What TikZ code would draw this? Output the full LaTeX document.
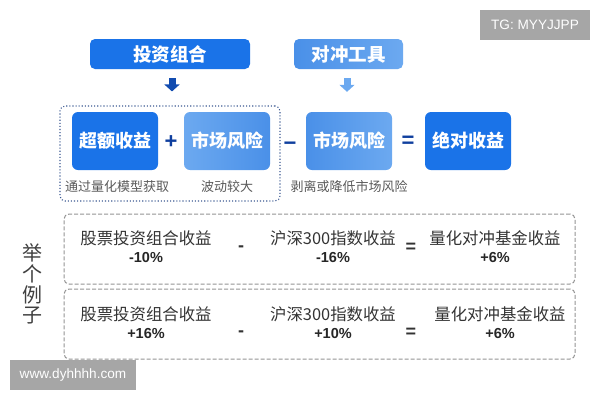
\documentclass[tikz,border=0pt]{standalone}
\usepackage{fontspec}
\usepackage{xcolor}
\setmainfont{Liberation Sans}
\newfontfamily\cjk{Noto Sans CJK SC}
\usetikzlibrary{arrows.meta, positioning}
\definecolor{deep_blue}{HTML}{1A73E8}
\definecolor{mid_blue}{HTML}{4A90E8}
\definecolor{pale_blue}{HTML}{6CA9F0}
\definecolor{navy_blue}{HTML}{0F3F9E}
\definecolor{mark_grey}{HTML}{A6A6A6}

\begin{document}
\begin{tikzpicture}[
		x=1pt, y=-1pt,
		% Define styles for the nodes and layers
		title_box/.style={
			rectangle,
			minimum height=30pt,
			rounded corners=5pt,
			inner sep=0pt,
			text=white,
			font=\cjk\bfseries\fontsize{18.5}{18.5}\selectfont
		},
		term_box/.style={
			rectangle,
			minimum width=86pt,
			minimum height=58pt,
			rounded corners=6pt,
			inner sep=0pt,
			text=white,
			font=\cjk\bfseries\fontsize{18}{18}\selectfont
		},
		caption_node/.style={
			inner sep=0pt,
			text=black!65,
			font=\cjk\fontsize{13}{13}\selectfont
		},
		group_box/.style={
			rectangle,
			draw=navy_blue!60!gray,
			line width=1.1pt,
			dotted,
			minimum width=220pt,
			minimum height=95pt,
			rounded corners=5pt
		},
		example_box/.style={
			rectangle,
			draw=black!42,
			line width=1pt,
			dash pattern=on 4pt off 2pt,
			minimum width=511pt,
			minimum height=70pt,
			rounded corners=5pt
		},
		row_text/.style={
			inner sep=0pt,
			text=black!80,
			font=\cjk\fontsize{16.4}{16.4}\selectfont
		},
		row_value/.style={
			inner sep=0pt,
			text=black!85,
			font=\bfseries\fontsize{14.5}{14.5}\selectfont
		},
		row_sign/.style={
			inner sep=0pt,
			text=black!80,
			font=\bfseries\fontsize{18}{18}\selectfont
		},
		op_sign/.style={
			inner sep=0pt,
			text=navy_blue,
			font=\bfseries\fontsize{22}{22}\selectfont
		},
		side_char/.style={
			inner sep=0pt,
			text=black!75,
			font=\cjk\fontsize{20}{20}\selectfont
		},
		mark_box/.style={
			rectangle,
			fill=mark_grey,
			inner sep=0pt,
			text=white,
			font=\fontsize{13.6}{13.6}\selectfont
		},
		arrow_style/.style={
			-{Triangle[width=15pt,length=7pt]},
			line width=7pt
		},
		]
		\useasboundingbox (0,0) rectangle (600,400);
		
		% ----- Nodes -----
		% Two headers on top
		\node[title_box, fill=deep_blue, minimum width=160pt] (portfolio_box) at (170, 54) {投资组合};
		\node[title_box, left color=mid_blue, right color=pale_blue, minimum width=109pt] (hedge_box) at (348.5, 54) {对冲工具};
		
		% The equation
		\node[group_box] (excess_group) at (170, 153.5) {};
		\node[term_box, fill=deep_blue] (excess_box) at (115, 141) {超额收益};
		\node[term_box, left color=pale_blue, right color=mid_blue] (market_box) at (227, 141) {市场风险};
		\node[term_box, left color=mid_blue, right color=pale_blue] (hedged_box) at (349, 141) {市场风险};
		\node[term_box, fill=deep_blue] (alpha_box) at (468, 141) {绝对收益};
		\node[op_sign] (plus_sign) at (171, 142) {+};
		\node[op_sign] (minus_sign) at (290, 146) {−};
		\node[op_sign] (equal_sign) at (408, 142) {=};
		
		% Captions below the equation
		\node[caption_node] (excess_note) at (117, 187) {通过量化模型获取};
		\node[caption_node] (market_note) at (227, 187) {波动较大};
		\node[caption_node] (hedged_note) at (349, 187) {剥离或降低市场风险};
		
		% The two examples
		\node[example_box] (first_box) at (319.5, 249) {};
		\node[example_box] (second_box) at (319.5, 324) {};
		\node[side_char] (side_a) at (33, 253) {举};
		\node[side_char] (side_b) at (33, 274) {个};
		\node[side_char] (side_c) at (33, 295) {例};
		\node[side_char] (side_d) at (33, 316) {子};
		
		% First example
		\node[row_text] (stock_one) at (146, 238) {股票投资组合收益};
		\node[row_value] (stock_one_val) at (146, 258) {-10\%};
		\node[row_sign] (minus_one) at (241, 249) {-};
		\node[row_text] (index_one) at (333, 238) {沪深300指数收益};
		\node[row_value] (index_one_val) at (333, 258) {-16\%};
		\node[row_sign] (equal_one) at (411, 248) {=};
		\node[row_text] (fund_one) at (495, 238) {量化对冲基金收益};
		\node[row_value] (fund_one_val) at (495, 258) {+6\%};
		
		% Second example
		\node[row_text] (stock_two) at (146, 314) {股票投资组合收益};
		\node[row_value] (stock_two_val) at (146, 334) {+16\%};
		\node[row_sign] (minus_two) at (241, 334) {-};
		\node[row_text] (index_two) at (333, 314) {沪深300指数收益};
		\node[row_value] (index_two_val) at (333, 334) {+10\%};
		\node[row_sign] (equal_two) at (411, 333) {=};
		\node[row_text] (fund_two) at (500, 314) {量化对冲基金收益};
		\node[row_value] (fund_two_val) at (500, 334) {+6\%};
		
		% Grey marks in the corners
		\node[mark_box, minimum width=110pt, minimum height=30pt] (tg_mark) at (535, 25) {TG: MYYJJPP};
		\node[mark_box, minimum width=126pt, minimum height=30pt] (web_mark) at (73, 375) {www.dyhhhh.com};
		
		% ----- Arrows -----
		\draw[arrow_style, navy_blue!75!deep_blue, shorten <=9pt, shorten >=14pt] ([xshift=2pt]portfolio_box.south) -- ([xshift=2pt]excess_group.north);
		\draw[arrow_style, pale_blue, shorten <=9pt, shorten >=20pt] ([xshift=-1.5pt]hedge_box.south) -- ([xshift=-2pt]hedged_box.north);
		
	\end{tikzpicture}
\end{document}
